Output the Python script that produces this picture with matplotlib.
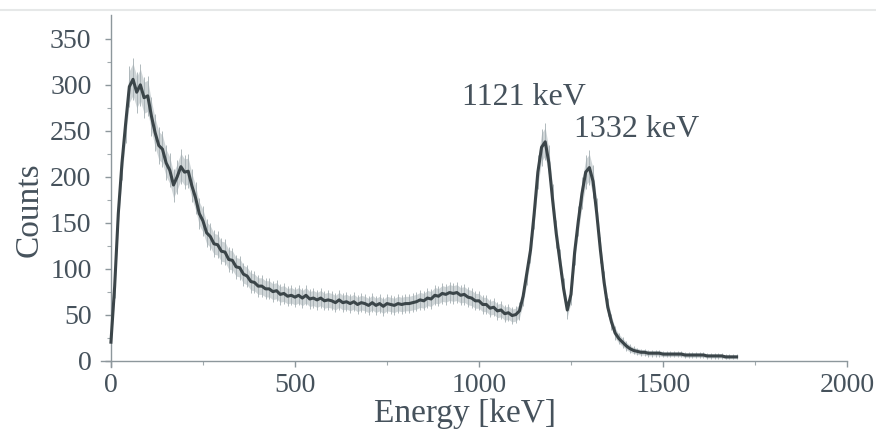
import numpy as np
import matplotlib
matplotlib.use("Agg")
import matplotlib.pyplot as plt

# ---- data (energy in keV, counts) ----
energy = list(range(0, 1710, 10))
counts = [
    20, 80, 160, 215, 258, 298, 306, 292, 300, 286,      # 0-90
    288, 266, 248, 234, 230, 215, 207, 191, 200, 211,    # 100-190
    205, 206, 190, 177, 160, 152, 139, 135, 127, 126,    # 200-290
    119, 118, 110, 109, 102, 101, 94, 92, 86, 85,        # 300-390
    81, 81, 78, 78, 75, 76, 72, 73, 70, 71,              # 400-490
    69, 71, 68, 71, 67, 68, 66, 68, 65, 66,              # 500-590
    65, 63, 66, 63, 64, 62, 64, 61, 63, 62,              # 600-690
    60, 63, 60, 62, 59, 62, 61, 60, 62, 61,              # 700-790
    62, 62, 63, 64, 66, 65, 68, 67, 71, 70,              # 800-890
    73, 72, 74, 73, 74, 71, 72, 69, 68, 65,              # 900-990
    65, 61, 61, 57, 58, 54, 55, 51, 52, 49,              # 1000-1090
    50, 54, 70, 95, 120, 160, 205, 232, 238, 215,        # 1100-1190
    175, 138, 108, 78, 55, 72, 118, 152, 182, 205,       # 1200-1290
    210, 195, 160, 120, 85, 58, 42, 30, 24, 20,          # 1300-1390
    16, 13, 11, 10, 9, 9, 8, 8, 8, 8,                    # 1400-1490
    7, 7, 7, 7, 7, 7, 6, 6, 6, 6,                        # 1500-1590
    6, 6, 5, 5, 5, 5, 5, 4, 4, 4,                        # 1600-1690
    4,                                                   # 1700
]
peak_labels = ["1121 keV", "1332 keV"]
peak_label_pos = [(955, 278), (1257, 243)]
x_ticks = [0, 500, 1000, 1500, 2000]
y_ticks = [0, 50, 100, 150, 200, 250, 300, 350]

e = np.array(energy, dtype=float)
c = np.array(counts, dtype=float)
err = np.sqrt(np.maximum(c, 1))

txt = "#46525c"
plt.rcParams["font.family"] = ["Liberation Serif", "DejaVu Serif"]

fig = plt.figure(figsize=(8.76, 4.32), dpi=100)
fig.patch.set_facecolor("white")
ax = fig.add_axes([0.1153, 0.1505, 0.8516, 0.8148])

ax.fill_between(e, c - err, c + err, color="#c3cbce", lw=0, alpha=0.8, zorder=1)
ax.errorbar(e, c, yerr=err * 1.3, fmt="none", ecolor="#a4aeb2", elinewidth=0.6, zorder=2)
ax.plot(e, c, color="#3b4549", lw=2.2, zorder=3)

ax.set_xlim(-27, 2000)
ax.set_ylim(-7, 376)
ax.spines["top"].set_visible(False)
ax.spines["right"].set_visible(False)
ax.spines["left"].set_position(("data", 0))
ax.spines["bottom"].set_position(("data", 0))
for s in ("left", "bottom"):
    ax.spines[s].set_color("#8d979c")
    ax.spines[s].set_linewidth(1.0)

ax.set_xticks(x_ticks)
ax.set_xticks([250, 750, 1250, 1750], minor=True)
ax.set_yticks(y_ticks)
ax.set_yticks([25, 75, 125, 175, 225, 275, 325], minor=True)
ax.tick_params(axis="both", which="major", direction="out", length=4, width=1,
               color="#8d979c", labelsize=20, labelcolor=txt)
ax.tick_params(axis="both", which="minor", direction="out", length=3, width=0.8,
               color="#a0a9ad")
ax.tick_params(axis="x", pad=5)
ax.tick_params(axis="y", pad=10)

ax.set_xlabel("Energy [keV]", fontsize=24, color=txt)
ax.set_ylabel("Counts", fontsize=24, color=txt)
ax.yaxis.set_label_coords(-0.076, 0.446)
ax.xaxis.set_label_coords(0.488, -0.09)

for lab, (px, py) in zip(peak_labels, peak_label_pos):
    ax.text(px, py, lab, fontsize=23, color=txt, ha="left", va="baseline")

fig.add_artist(plt.Line2D([0, 1], [1 - 10 / 432, 1 - 10 / 432],
                          transform=fig.transFigure, color="#e6e8e8", lw=1.5))

fig.savefig("out.png", dpi=100, facecolor="white")
